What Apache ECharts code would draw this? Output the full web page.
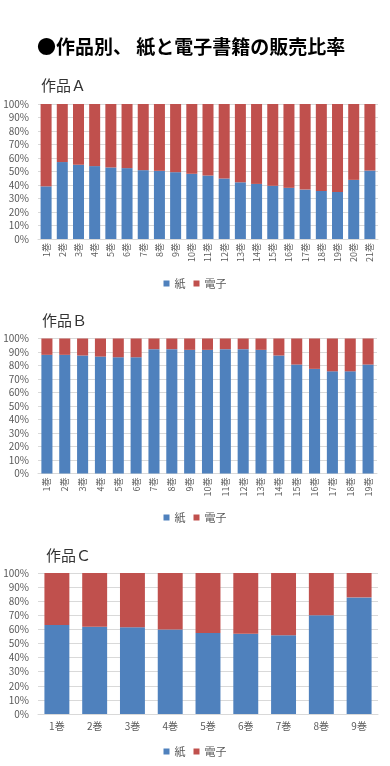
<!DOCTYPE html>
<html>
<head>
<meta charset="utf-8">
<script src="https://cdn.jsdelivr.net/npm/echarts@6/dist/echarts.min.js"></script>
<style>
html,body{margin:0;padding:0;background:#fff;}
#main{width:390px;height:766px;}
</style>
</head>
<body>
<div id="main"></div>
<script>
// Data
var catsA = ['1巻','2巻','3巻','4巻','5巻','6巻','7巻','8巻','9巻','10巻','11巻','12巻','13巻','14巻','15巻','16巻','17巻','18巻','19巻','20巻','21巻'];
var paperA = [39, 57, 55, 54, 53, 52.5, 51, 50.5, 49.5, 48.3, 47, 44.8, 42, 40.8, 39.4, 37.9, 36.6, 35.6, 34.9, 43.8, 50.7];
var ebookA = [61, 43, 45, 46, 47, 47.5, 49, 49.5, 50.5, 51.7, 53, 55.2, 58, 59.2, 60.6, 62.1, 63.4, 64.4, 65.1, 56.2, 49.3];

var catsB = ['1巻','2巻','3巻','4巻','5巻','6巻','7巻','8巻','9巻','10巻','11巻','12巻','13巻','14巻','15巻','16巻','17巻','18巻','19巻'];
var paperB = [87.9, 87.9, 87.4, 86.6, 86.1, 86.1, 92.1, 92.1, 91.6, 91.6, 92.1, 92.1, 91.6, 87.4, 80.7, 77.5, 75.7, 75.7, 80.7];
var ebookB = [12.1, 12.1, 12.6, 13.4, 13.9, 13.9, 7.9, 7.9, 8.4, 8.4, 7.9, 7.9, 8.4, 12.6, 19.3, 22.5, 24.3, 24.3, 19.3];

var catsC = ['1巻','2巻','3巻','4巻','5巻','6巻','7巻','8巻','9巻'];
var paperC = [63.1, 61.9, 61.5, 60.0, 57.4, 57.0, 55.8, 70.0, 82.7];
var ebookC = [36.9, 38.1, 38.5, 40.0, 42.6, 43.0, 44.2, 30.0, 17.3];

var seriesNames = ['紙', '電子'];
var mainTitle = '●作品別、 紙と電子書籍の販売比率';
var subTitles = ['作品Ａ', '作品Ｂ', '作品Ｃ'];

var FONT = '"Noto Sans CJK JP", "Noto Sans", sans-serif';
var BLUE = '#4f81bd', RED = '#c0504d';
var LABEL = '#595959';

function yAxis(idx) {
  return {
    type: 'value', gridIndex: idx, min: 0, max: 100, interval: 10,
    axisLabel: { formatter: '{value}%', color: LABEL, fontSize: 10, fontFamily: FONT, margin: 9 },
    axisLine: { show: false }, axisTick: { show: false },
    splitLine: { lineStyle: { color: '#d9d9d9', width: 1 } }
  };
}
function xAxis(idx, cats, rotate) {
  return {
    type: 'category', gridIndex: idx, data: cats,
    axisLine: { lineStyle: { color: '#d9d9d9' } },
    axisTick: { show: false },
    axisLabel: { color: LABEL, fontSize: rotate ? 9 : 10, fontFamily: FONT, rotate: rotate ? 90 : 0, margin: rotate ? 4 : 7, interval: 0 }
  };
}
function bars(idx, paper, ebook, gap) {
  return [
    { name: seriesNames[0], type: 'bar', stack: 's' + idx, xAxisIndex: idx, yAxisIndex: idx, data: paper,
      itemStyle: { color: BLUE }, barCategoryGap: gap, emphasis: { disabled: true } },
    { name: seriesNames[1], type: 'bar', stack: 's' + idx, xAxisIndex: idx, yAxisIndex: idx, data: ebook,
      itemStyle: { color: RED }, barCategoryGap: gap, emphasis: { disabled: true } }
  ];
}
function legend(top) {
  return {
    data: seriesNames, left: 'center', top: top, icon: 'rect', itemWidth: 6, itemHeight: 6, itemGap: 8,
    textStyle: { color: LABEL, fontSize: 11, fontFamily: FONT }, selectedMode: false
  };
}

var chart = echarts.init(document.getElementById('main'));
chart.setOption({
  animation: false,
  backgroundColor: '#fff',
  title: [
    { text: mainTitle, left: 32, top: 32, textStyle: { fontSize: 19, fontWeight: 'bold', color: '#000', fontFamily: FONT } },
    { text: subTitles[0], left: 36, top: 73, textStyle: { fontSize: 15, fontWeight: 'normal', color: '#333', fontFamily: FONT } },
    { text: subTitles[1], left: 37, top: 308, textStyle: { fontSize: 15, fontWeight: 'normal', color: '#333', fontFamily: FONT } },
    { text: subTitles[2], left: 41, top: 543, textStyle: { fontSize: 15, fontWeight: 'normal', color: '#333', fontFamily: FONT } }
  ],
  legend: [legend(273), legend(507), legend(741)],
  grid: [
    { left: 38, right: 12, top: 104, height: 135 },
    { left: 38, right: 13, top: 338.5, height: 135 },
    { left: 38, right: 12, top: 573, height: 141 }
  ],
  xAxis: [xAxis(0, catsA, true), xAxis(1, catsB, true), xAxis(2, catsC, false)],
  yAxis: [yAxis(0), yAxis(1), yAxis(2)],
  series: [].concat(bars(0, paperA, ebookA, '32%'), bars(1, paperB, ebookB, '38%'), bars(2, paperC, ebookC, '34%'))
});
</script>
</body>
</html>
